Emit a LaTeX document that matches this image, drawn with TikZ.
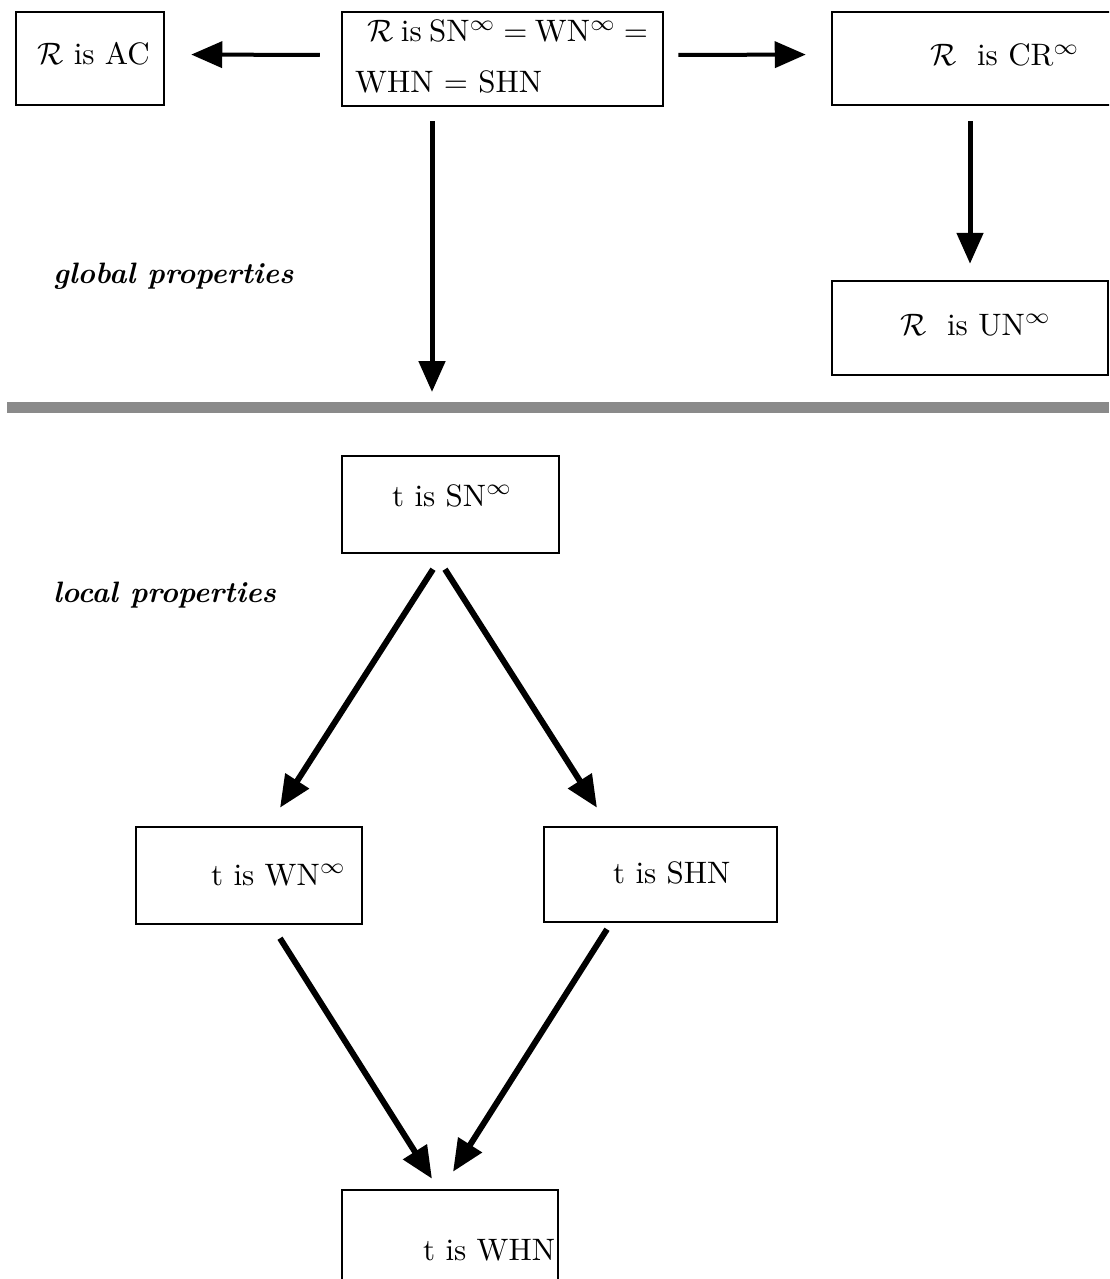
\documentclass[tikz,border=0pt]{standalone}
\usetikzlibrary{arrows.meta}
\definecolor{barGray}{RGB}{138,138,138}
% box texts are set at 10pt and enlarged as a whole
\newcommand{\boxtxt}[1]{\scalebox{3.1}{#1}}
\newcommand{\tagtxt}[1]{\scalebox{2.95}{\bfseries\itshape #1}}
\tikzset{
  box/.style={draw, rectangle, line width=2.5pt, inner sep=0pt},
  lbl/.style={anchor=base west, inner sep=0pt, font=\fontsize{10}{12}\selectfont},
  tag/.style={anchor=base west, inner sep=0pt, font=\fontsize{10}{12}\selectfont},
  arrH/.style={line width=4pt, -{Triangle[length=31pt,width=26pt]}},
  arrV/.style={line width=5pt, -{Triangle[length=31pt,width=26pt]}},
  arrD/.style={line width=6pt, -{Triangle[length=32pt,width=27pt]}},
}
\begin{document}
\begin{tikzpicture}[x=1pt, y=-1pt]
\useasboundingbox (0,0) rectangle (1109,1279);
\clip (0,0) rectangle (1109,1279);

% boxes of the global part
\node[box, minimum width=148pt, minimum height=93pt] (ac)   at (90,58.5)   {};
\node[box, minimum width=321pt, minimum height=94pt] (main) at (502.5,59)  {};
\node[box, minimum width=293pt, minimum height=93pt] (cr)   at (978.5,58.5) {};
\node[box, minimum width=276pt, minimum height=94pt] (un)   at (970,328)   {};

% boxes of the local part
\node[box, minimum width=217pt, minimum height=97pt]  (sn)  at (450.5,504.5) {};
\node[box, minimum width=226pt, minimum height=97pt]  (wn)  at (249,875.5)   {};
\node[box, minimum width=233pt, minimum height=95pt]  (shn) at (660.5,874.5) {};
\node[box, minimum width=216pt, minimum height=110pt] (whn) at (450,1245)    {};

% box texts
\node[lbl] (acT)    at (37,65)   {\boxtxt{$\mathcal{R}$ is AC}};
\node[lbl] (mainT1) at (367,42)  {\boxtxt{\spaceskip=0.24em $\mathcal{R}$ is SN$^\infty$ = WN$^\infty$ =}};
\node[lbl] (mainT2) at (355,93)  {\boxtxt{WHN = SHN}};
\node[lbl] (crT)    at (930,66)  {\boxtxt{$\mathcal{R}$\ \ is CR$^\infty$}};
\node[lbl] (unT)    at (900,335) {\boxtxt{$\mathcal{R}$\ \ is UN$^\infty$}};
\node[lbl] (snT)    at (392,506) {\boxtxt{t is SN$^\infty$}};
\node[lbl] (wnT)    at (211,885) {\boxtxt{t is WN$^\infty$}};
\node[lbl] (shnT)   at (613,883) {\boxtxt{t is SHN}};
\node[lbl] (whnT)   at (423,1260) {\boxtxt{t is WHN}};

% section captions
\node[tag] (glob) at (53,283) {\tagtxt{global properties}};
\node[tag] (loc)  at (53,602) {\tagtxt{local properties}};

% separator
\fill[barGray] (7,402) rectangle (1109,413);

% implications among global properties
\coordinate (gtip) at (432,392);
\draw[arrH, shorten <=21pt, shorten >=26pt] ([yshift=4pt]main.west) -- ([yshift=4pt]ac.east);
\draw[arrH, shorten <=14pt, shorten >=25pt] ([yshift=4pt]main.east) -- ([yshift=4pt]cr.west);
\draw[arrV, shorten <=14pt] (main.south -| gtip) -- (gtip);
\draw[arrV, shorten <=15pt, shorten >=16pt] (cr.south -| un.north) -- (un.north);

% implications among local properties
\draw[arrD] ([xshift=-17.5pt, yshift=-15pt]sn.south) -- ([xshift=31pt, yshift=18pt]wn.north);
\draw[arrD] ([xshift=-5.5pt, yshift=-15pt]sn.south) -- ([xshift=-63.5pt, yshift=18pt]shn.north);
\draw[arrD] ([xshift=31pt, yshift=-13pt]wn.south) -- ([xshift=-18pt, yshift=10pt]whn.north);
\draw[arrD] ([xshift=-53.5pt, yshift=-6pt]shn.south) -- ([xshift=3pt, yshift=17pt]whn.north);
\end{tikzpicture}
\end{document}
